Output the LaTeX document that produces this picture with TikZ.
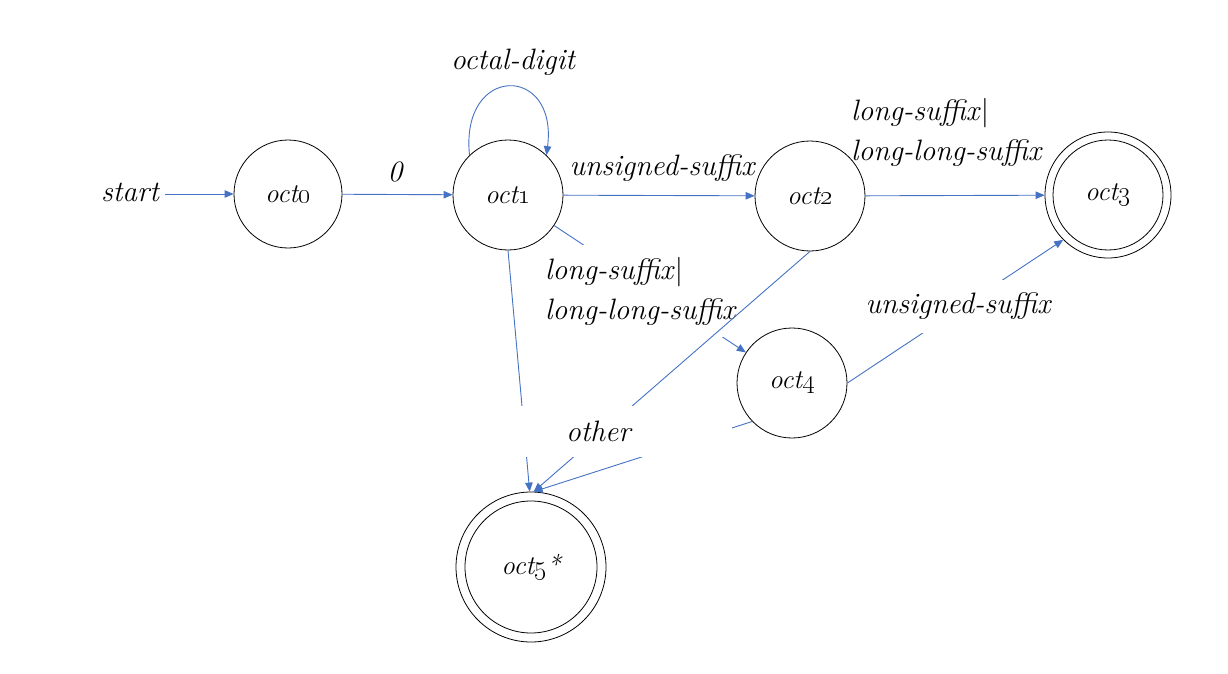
\RequirePackage{fix-cm}
\documentclass[tikz,border=0pt]{standalone}
\usetikzlibrary{arrows.meta}
\definecolor{edgeblue}{HTML}{4472C4}
\begin{document}
\begin{tikzpicture}[x=1pt,y=-1pt,
  state/.style={circle,draw=black,line width=0.8pt,inner sep=0pt,minimum size=110pt,
    font=\fontsize{27}{32}\selectfont\itshape},
  edge/.style={draw=edgeblue,line width=0.9pt,-{Triangle[length=9pt,width=7.5pt]}},
  lbl/.style={font=\fontsize{29.5}{40}\selectfont\itshape,inner sep=2pt},
  cover/.style={lbl,fill=white}]
\useasboundingbox (0,0) rectangle (1228,674);

% states
\node[lbl] (start) at (130,192) {start};
\node[state,minimum size=108pt] (oct0) at (288,194) {oct\oldstylenums{0}};
\node[state] (oct1) at (508,195) {oct\oldstylenums{1}};
\node[state] (oct2) at (810,196) {oct\oldstylenums{2}};
\node[state,minimum size=126pt] (oct3) at (1108,195) {oct\oldstylenums{3}};
\draw[line width=0.8pt] (oct3.center) circle[radius=55pt];
\node[state] (oct4) at (792,383) {oct\oldstylenums{4}};
\node[state,minimum size=150pt] (oct5) at (531,567) {oct\oldstylenums{5}*};
\draw[line width=0.8pt] (oct5.center) circle[radius=66pt];

% transitions
\draw[edge,shorten <=4pt] (start.east |- oct0.west) -- (oct0.west);
\draw[edge] (oct0) -- (oct1);
\node[lbl] (l01) at (395,172) {0};
\draw[edge] (oct1.134) .. controls (460,64) and (558,64) .. (oct1.46);
\node[lbl] (lloop) at (513,62) {octal-digit};
\draw[edge] (oct1) -- (oct2);
\node[lbl] (l12) at (662,168) {unsigned-suffix};
\draw[edge] (oct2) -- (oct3);
\node[lbl,anchor=west,align=left] (l23) at (849,132) {long-suffix\textup{|}\\long-long-suffix};

\draw[edge] (oct1) -- (oct4);
\node[cover,anchor=west,align=left,minimum height=92pt] (l14) at (543,291) {long-suffix\textup{|}\\long-long-suffix};

\draw[edge] (oct4.east) -- (oct3.225);
\node[cover,minimum height=53pt] (l43) at (958,306) {unsigned-suffix};

\draw[edge] (oct1.south) -- (oct5.91);
\draw[edge] (oct2.south) -- (oct5.88);
\draw[edge] (oct4.224) -- (oct5.88);
\node[cover,minimum width=212pt,minimum height=51pt,text width=208pt,align=left] (lother) at (626,431.5) {\hspace*{44pt}other};
\end{tikzpicture}
\end{document}
